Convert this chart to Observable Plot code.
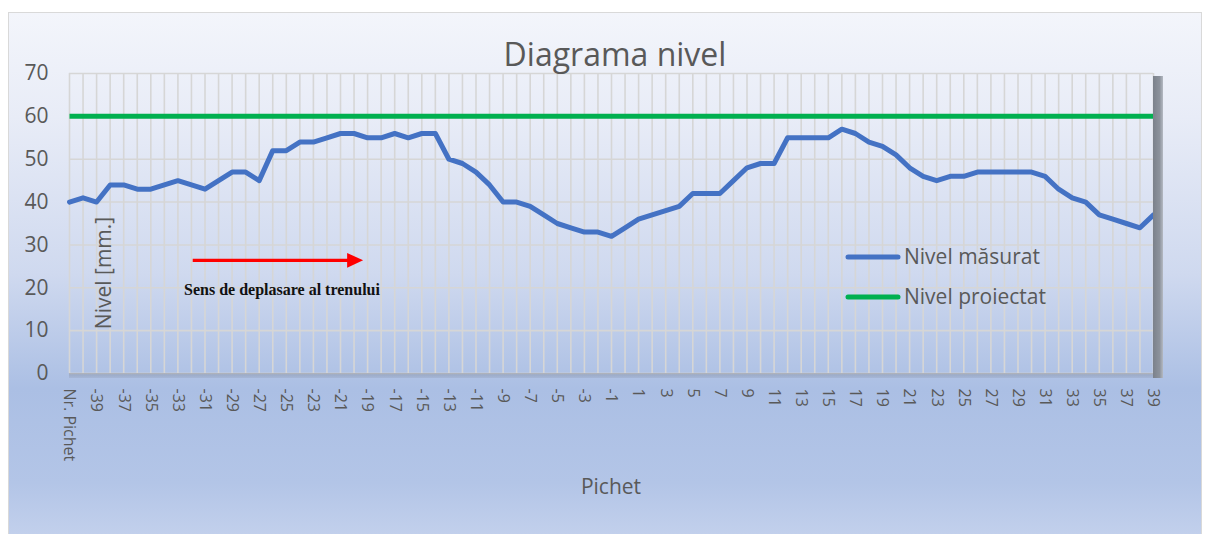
<!DOCTYPE html>
<html>
<head>
<meta charset="utf-8">
<script src="https://cdn.jsdelivr.net/npm/d3@7"></script>
<script src="https://cdn.jsdelivr.net/npm/@observablehq/plot@0.6"></script>
<style>
  body { margin: 0; background: #ffffff; }
  #chart { position: relative; width: 1212px; height: 534px; overflow: hidden; font-family: "Open Sans", sans-serif; color: #595959; }
  #bg { position: absolute; left: 8px; top: 12px; width: 1194px; height: 524px; border: 1px solid #d9d9d9; box-sizing: border-box;
        background: linear-gradient(to bottom, #f3f5fb 0%, #e8ecf7 20%, #cfd9ef 50%, #abbfe4 72%, #b3c5e7 90%, #c2d0ec 100%); }
  #plotwrap { position: absolute; left: 0; top: 0; }
  #wall { position: absolute; left: 1153px; top: 76px; width: 10px; height: 302px;
          background: linear-gradient(to right, #7b818b 0%, #8c929c 65%, #b4b9c2 100%); }
  #floor { position: absolute; left: 69px; top: 373px; width: 1094px; height: 5px;
           background: linear-gradient(to bottom, rgba(120,130,150,0.45), rgba(140,150,170,0.25)); }
</style>
</head>
<body>
<div id="chart">
  <div id="bg"></div>
  <div id="plotwrap"></div>
  <div id="floor"></div>
  <div id="wall"></div>
</div>
<script>
// ---- data ----
const pichet = ["Nr. Pichet",
  "-40","-39","-38","-37","-36","-35","-34","-33","-32","-31",
  "-30","-29","-28","-27","-26","-25","-24","-23","-22","-21",
  "-20","-19","-18","-17","-16","-15","-14","-13","-12","-11",
  "-10","-9","-8","-7","-6","-5","-4","-3","-2","-1",
  "0","1","2","3","4","5","6","7","8","9",
  "10","11","12","13","14","15","16","17","18","19",
  "20","21","22","23","24","25","26","27","28","29",
  "30","31","32","33","34","35","36","37","38","39"];

const nivelMasurat = [40,
  41,40,44,44,43,43,44,45,44,43,
  45,47,47,45,52,52,54,54,55,56,
  56,55,55,56,55,56,56,50,49,47,
  44,40,40,39,37,35,34,33,33,32,
  34,36,37,38,39,42,42,42,45,48,
  49,49,55,55,55,55,57,56,54,53,
  51,48,46,45,46,46,47,47,47,47,
  47,46,43,41,40,37,36,35,34,37];

const nivelProiectat = [60,
  60,60,60,60,60,60,60,60,60,60,
  60,60,60,60,60,60,60,60,60,60,
  60,60,60,60,60,60,60,60,60,60,
  60,60,60,60,60,60,60,60,60,60,
  60,60,60,60,60,60,60,60,60,60,
  60,60,60,60,60,60,60,60,60,60,
  60,60,60,60,60,60,60,60,60,60,
  60,60,60,60,60,60,60,60,60,60];

const yTicks = [0, 10, 20, 30, 40, 50, 60, 70];
const seriesNames = ["Nivel măsurat", "Nivel proiectat"];
const seriesColors = ["#4472c4", "#00b050"];
const titleText = "Diagrama nivel";
const xTitle = "Pichet";
const yTitle = "Nivel [mm.]";
const noteText = "Sens de deplasare al trenului";
// annotation arrow (in category-index / level units)
const noteArrow = {from: 9.13, to: 21.67, level: 26.4};

// ---- build ----
const idx = pichet.map((_, i) => i);
const rows = pichet.map((p, i) => ({i, p, m: nivelMasurat[i], pr: nivelProiectat[i]}));
const evenIdx = idx.filter(i => i % 2 === 0);

const headLen = 1.18, headHalf = 1.72;
const arrowHead = [
  {x: noteArrow.to - headLen, y: noteArrow.level + headHalf},
  {x: noteArrow.to, y: noteArrow.level},
  {x: noteArrow.to - headLen, y: noteArrow.level - headHalf}
];

const plot = Plot.plot({
  width: 1212,
  height: 534,
  marginLeft: 69,
  marginRight: 59,
  marginTop: 73,
  marginBottom: 161,
  style: {background: "transparent", fontFamily: "Open Sans", color: "#595959", overflow: "visible"},
  x: {type: "linear", domain: [0, pichet.length - 1], axis: null},
  y: {domain: [0, 70], axis: null},
  marks: [
    Plot.gridX(idx, {stroke: "#d6d6d6", strokeOpacity: 1, strokeWidth: 1.6}),
    Plot.gridY(yTicks, {stroke: "#d6d6d6", strokeOpacity: 1, strokeWidth: 1.6}),
    Plot.axisY(yTicks, {tickSize: 0, tickPadding: 21, fontSize: 21, fill: "#595959"}),
    Plot.axisX(evenIdx, {tickSize: 0, tickPadding: 15, tickRotate: 90, fontSize: 16, fill: "#595959",
      tickFormat: i => pichet[i], label: null}),
    Plot.ruleY([noteArrow.level], {x1: noteArrow.from, x2: noteArrow.to - headLen + 0.2, stroke: "#ff0000", strokeWidth: 3.3}),
    Plot.line(arrowHead, {x: "x", y: "y", fill: "#ff0000", stroke: "none", curve: "linear-closed"}),
    Plot.line(rows, {x: "i", y: "m", stroke: seriesColors[0], strokeWidth: 5, strokeLinejoin: "round", strokeLinecap: "round"}),
    Plot.line(rows, {x: "i", y: "pr", stroke: seriesColors[1], strokeWidth: 5, strokeLinejoin: "round", strokeLinecap: "butt"})
  ]
});
document.getElementById("plotwrap").appendChild(plot);

const svg = d3.select(plot);
const g = svg.append("g").attr("font-family", "Open Sans").attr("fill", "#595959");
// title
g.append("text").attr("x", 615).attr("y", 66).attr("text-anchor", "middle").attr("font-size", 32).text(titleText);
// axis titles
g.append("text").attr("x", 611).attr("y", 494).attr("text-anchor", "middle").attr("font-size", 21).text(xTitle);
g.append("text").attr("transform", "translate(111,273) rotate(-90)").attr("text-anchor", "middle").attr("font-size", 21).text(yTitle);
// legend
const legendY = [257, 297];
seriesNames.forEach((name, k) => {
  g.append("line").attr("x1", 848).attr("x2", 898).attr("y1", legendY[k]).attr("y2", legendY[k])
    .attr("stroke", seriesColors[k]).attr("stroke-width", 5).attr("stroke-linecap", "round");
  g.append("text").attr("x", 904).attr("y", legendY[k] + 7).attr("text-anchor", "start").attr("font-size", 21).text(name);
});
// annotation text
g.append("text").attr("x", 282).attr("y", 295).attr("text-anchor", "middle")
  .attr("font-family", "Liberation Serif").attr("font-weight", "bold").attr("font-size", 16)
  .attr("fill", "#111").text(noteText);
</script>
</body>
</html>
